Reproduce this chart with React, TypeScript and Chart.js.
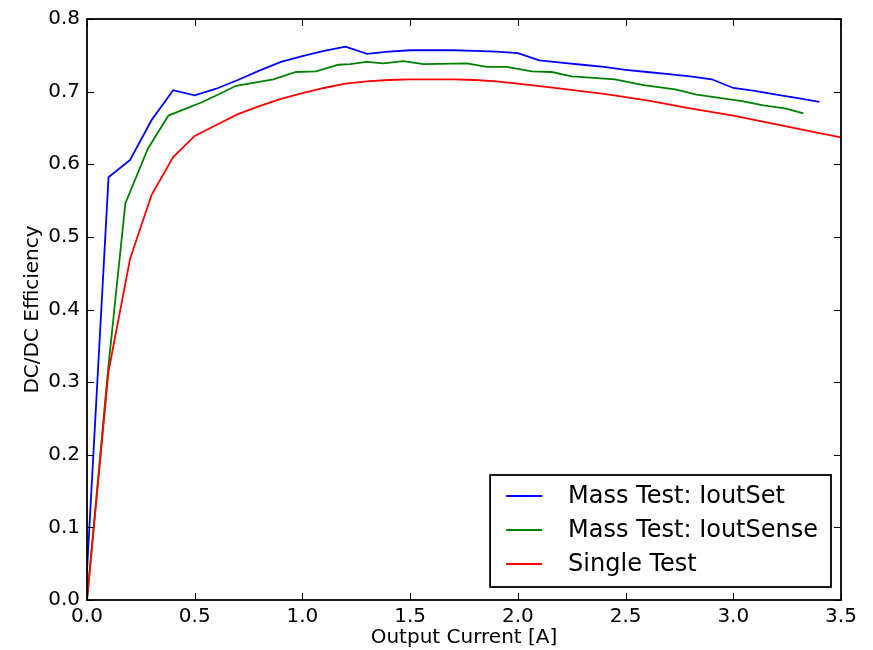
import React, { useEffect, useRef } from "react";
import { Chart, registerables } from "chart.js";

Chart.register(...registerables);

const FONT = "'DejaVu Sans', sans-serif";

const seriesLabels = ["Mass Test: IoutSet", "Mass Test: IoutSense", "Single Test"];
const seriesColors = ["#0000ff", "#008000", "#ff0000"];

const setX = [0.0, 0.1, 0.2, 0.3, 0.4, 0.5, 0.6, 0.7, 0.8, 0.9, 1.0, 1.1, 1.2, 1.3, 1.4, 1.5, 1.6, 1.7, 1.8, 1.9, 2.0, 2.1, 2.2, 2.3, 2.4, 2.5, 2.6, 2.7, 2.8, 2.9, 3.0, 3.1, 3.2, 3.3, 3.4];
const setY = [0.04, 0.582, 0.606, 0.661, 0.702, 0.695, 0.704, 0.716, 0.729, 0.741, 0.749, 0.756, 0.762, 0.752, 0.755, 0.757, 0.757, 0.757, 0.756, 0.755, 0.753, 0.743, 0.740, 0.737, 0.734, 0.730, 0.727, 0.724, 0.721, 0.717, 0.705, 0.701, 0.696, 0.691, 0.686];

const senseX = [0.0, 0.097, 0.178, 0.282, 0.378, 0.53, 0.61, 0.692, 0.865, 0.970, 1.063, 1.167, 1.221, 1.298, 1.376, 1.468, 1.561, 1.763, 1.856, 1.948, 2.065, 2.157, 2.25, 2.451, 2.583, 2.730, 2.83, 3.04, 3.14, 3.24, 3.326];
const senseY = [0.0, 0.315, 0.546, 0.621, 0.667, 0.685, 0.696, 0.708, 0.717, 0.727, 0.728, 0.737, 0.738, 0.741, 0.739, 0.742, 0.738, 0.739, 0.734, 0.734, 0.728, 0.727, 0.721, 0.717, 0.709, 0.703, 0.696, 0.687, 0.681, 0.677, 0.670];

const singleX = [0.0, 0.1, 0.2, 0.3, 0.4, 0.5, 0.6, 0.7, 0.8, 0.9, 1.0, 1.1, 1.2, 1.3, 1.4, 1.5, 1.6, 1.7, 1.8, 1.9, 2.0, 2.2, 2.4, 2.6, 2.8, 3.0, 3.2, 3.4, 3.5];
const singleY = [0.0, 0.315, 0.47, 0.558, 0.610, 0.639, 0.654, 0.669, 0.680, 0.690, 0.698, 0.705, 0.711, 0.714, 0.716, 0.717, 0.717, 0.717, 0.716, 0.714, 0.711, 0.704, 0.697, 0.688, 0.677, 0.667, 0.655, 0.643, 0.637];

const xTicks = [0.0, 0.5, 1.0, 1.5, 2.0, 2.5, 3.0, 3.5];
const yTicks = [0.0, 0.1, 0.2, 0.3, 0.4, 0.5, 0.6, 0.7, 0.8];

const toPoints = (xs: number[], ys: number[]) => xs.map((x, i) => ({ x, y: ys[i] }));

const framePlugin = {
  id: "frameTicks",
  afterDatasetsDraw(chart: any) {
    const { ctx, chartArea } = chart;
    const { left, right, top, bottom } = chartArea;
    const xs = chart.scales.x;
    const ys = chart.scales.y;
    const tl = 7;
    ctx.save();
    ctx.strokeStyle = "#000";
    ctx.lineWidth = 1;
    ctx.beginPath();
    xTicks.forEach((v) => {
      const px = Math.round(xs.getPixelForValue(v)) + 0.5;
      ctx.moveTo(px, bottom);
      ctx.lineTo(px, bottom - tl);
      ctx.moveTo(px, top);
      ctx.lineTo(px, top + tl);
    });
    yTicks.forEach((v) => {
      const py = Math.round(ys.getPixelForValue(v)) + 0.5;
      ctx.moveTo(left, py);
      ctx.lineTo(left + tl, py);
      ctx.moveTo(right, py);
      ctx.lineTo(right - tl, py);
    });
    ctx.stroke();
    ctx.lineWidth = 1.8;
    ctx.strokeRect(left, top, right - left, bottom - top);
    ctx.restore();
  },
};

const legendPlugin = {
  id: "insideLegend",
  afterDraw(chart: any) {
    const { ctx, chartArea } = chart;
    const datasets = chart.data.datasets;
    ctx.save();
    ctx.font = `24px ${FONT}`;
    let maxW = 0;
    datasets.forEach((d: any) => {
      maxW = Math.max(maxW, ctx.measureText(d.label).width);
    });
    const boxW = 78 + maxW + 13;
    const boxH = 112;
    const bx = chartArea.right - 10 - boxW;
    const by = chartArea.bottom - 13 - boxH;
    ctx.fillStyle = "#fff";
    ctx.fillRect(bx, by, boxW, boxH);
    ctx.strokeStyle = "#000";
    ctx.lineWidth = 1.8;
    ctx.strokeRect(bx, by, boxW, boxH);
    datasets.forEach((d: any, i: number) => {
      const cy = by + 21 + i * 34;
      ctx.strokeStyle = d.borderColor;
      ctx.lineWidth = 1.8;
      ctx.beginPath();
      ctx.moveTo(bx + 16, cy);
      ctx.lineTo(bx + 52, cy);
      ctx.stroke();
      ctx.fillStyle = "#000";
      ctx.textBaseline = "middle";
      ctx.textAlign = "left";
      ctx.fillText(d.label, bx + 78, cy + 1);
    });
    ctx.restore();
  },
};

export default function App() {
  const ref = useRef<HTMLCanvasElement | null>(null);

  useEffect(() => {
    document.body.style.margin = "0";
    const canvas = ref.current;
    if (!canvas) return;
    const xsData = [setX, senseX, singleX];
    const ysData = [setY, senseY, singleY];
    const chart = new Chart(canvas, {
      type: "line",
      data: {
        datasets: seriesLabels.map((label, i) => ({
          label,
          data: toPoints(xsData[i], ysData[i]),
          borderColor: seriesColors[i],
          backgroundColor: seriesColors[i],
          borderWidth: 1.8,
          pointRadius: 0,
          tension: 0,
          fill: false,
          order: 2 - i,
        })),
      },
      options: {
        animation: false,
        responsive: false,
        devicePixelRatio: 1,
        layout: { padding: { left: 0, right: 32, top: 15, bottom: 0 } },
        plugins: { legend: { display: false }, tooltip: { enabled: false } },
        scales: {
          x: {
            type: "linear",
            min: 0,
            max: 3.5,
            afterFit: (s: any) => {
              s.height = 50;
            },
            afterBuildTicks: (s: any) => {
              s.ticks = xTicks.map((v) => ({ value: v }));
            },
            grid: { display: false, drawTicks: false },
            border: { display: false },
            ticks: {
              padding: 5,
              color: "#000",
              font: { family: FONT, size: 20 },
              callback: (v: any) => Number(v).toFixed(1),
              maxRotation: 0,
            },
            title: {
              display: true,
              text: "Output Current [A]",
              color: "#000",
              font: { family: FONT, size: 20 },
              padding: { top: 0, bottom: 0 },
            },
          },
          y: {
            type: "linear",
            min: 0,
            max: 0.8,
            afterFit: (s: any) => {
              s.width = 87;
            },
            afterBuildTicks: (s: any) => {
              s.ticks = yTicks.map((v) => ({ value: v }));
            },
            grid: { display: false, drawTicks: false },
            border: { display: false },
            ticks: {
              padding: 7,
              color: "#000",
              font: { family: FONT, size: 20 },
              callback: (v: any) => Number(v).toFixed(1),
            },
            title: {
              display: true,
              text: "DC/DC Efficiency",
              color: "#000",
              font: { family: FONT, size: 20 },
              padding: { top: 21, bottom: 0 },
            },
          },
        },
      },
      plugins: [framePlugin, legendPlugin],
    } as any);
    return () => chart.destroy();
  }, []);

  return <canvas ref={ref} width={873} height={650} style={{ display: "block" }} />;
}
